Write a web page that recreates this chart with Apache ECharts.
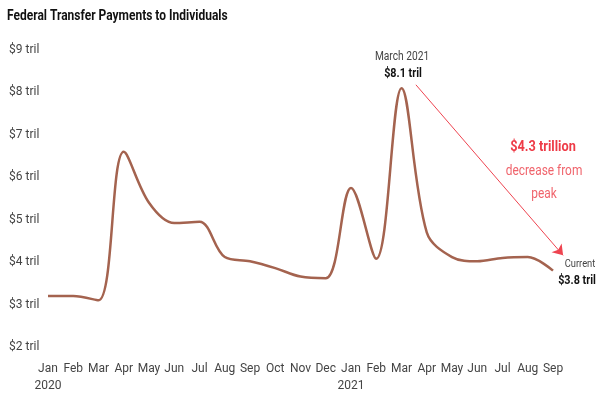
<!DOCTYPE html>
<html lang="en">
<head>
<meta charset="UTF-8">
<title>Federal Transfer Payments to Individuals</title>
<script src="https://cdn.jsdelivr.net/npm/echarts@6/dist/echarts.min.js"></script>
<style>
  html, body { margin: 0; padding: 0; background: #fff; }
  #main { width: 599px; height: 399px; }
</style>
</head>
<body>
<div id="main"></div>
<script>
// monthly values, Jan 2020 - Sep 2021, trillions of dollars
var months = ['Jan\n2020', 'Feb', 'Mar', 'Apr', 'May', 'Jun', 'Jul', 'Aug', 'Sep', 'Oct', 'Nov', 'Dec',
              'Jan\n2021', 'Feb', 'Mar', 'Apr', 'May', 'Jun', 'Jul', 'Aug', 'Sep'];
var payments = [3.2, 3.2, 3.1, 6.6, 5.4, 4.92, 4.95, 4.12, 4.02, 3.86, 3.66, 3.62,
                5.75, 4.08, 8.1, 4.7, 4.12, 4.02, 4.1, 4.12, 3.8];
var yTicks = [2, 3, 4, 5, 6, 7, 8, 9];
// arrow from the peak down to the latest value (month index, trillions)
var arrowFrom = [14.57, 8.18];
var arrowTo = [20.4, 4.16];

var font = 'Roboto, sans-serif';
var chart = echarts.init(document.getElementById('main'));

function label(txt, x, y, size, weight, color, scale) {
  return {
    type: 'text', x: x, y: y, scaleX: scale || 1,
    style: { text: txt, fontFamily: font, fontSize: size, fontWeight: weight,
             fill: color, textAlign: 'center', textVerticalAlign: 'middle' }
  };
}

chart.setOption({
  animation: false,
  textStyle: { fontFamily: font },
  grid: { left: 48, right: 46, top: 50, bottom: 52 },
  xAxis: [{
    type: 'category',
    data: months,
    boundaryGap: false,
    axisLine: { show: false },
    axisTick: { show: false },
    axisLabel: { color: '#444', fontSize: 12, margin: 13, lineHeight: 17, interval: 0 }
  }, {
    type: 'value', show: false, min: 0, max: months.length - 1
  }],
  yAxis: {
    type: 'value',
    min: yTicks[0], max: yTicks[yTicks.length - 1], interval: 1,
    splitLine: { show: false },
    axisLine: { show: false },
    axisTick: { show: false },
    axisLabel: {
      color: '#444', fontSize: 12, align: 'left', margin: 39,
      formatter: function (v) { return '$' + v + ' tril'; }
    }
  },
  series: [{
    type: 'line',
    data: payments,
    smooth: 0.35,
    symbol: 'none',
    lineStyle: { color: '#a4634f', width: 2.5 }
  }, {
    type: 'lines',
    coordinateSystem: 'cartesian2d',
    xAxisIndex: 1,
    clip: false,
    silent: true,
    symbol: ['none', 'arrow'],
    symbolSize: 10,
    lineStyle: { color: '#ee4450', width: 1, opacity: 1 },
    data: [{ coords: [arrowFrom, arrowTo] }]
  }],
  graphic: [
    { type: 'text', x: 7, y: 9, scaleX: 0.8,
      style: { text: 'Federal Transfer Payments to Individuals', fontFamily: font, fontSize: 15,
               fontWeight: 'bold', fill: '#111' } },
    label('March 2021', 402, 57, 12, 'normal', '#444', 0.85),
    label('$8.1 tril', 403, 74, 12, 'bold', '#111', 0.9),
    label('$4.3 trillion', 543, 147, 15, 'bold', '#ee3b47', 0.85),
    label('decrease from', 544, 171, 14, 'normal', '#f0646c', 0.85),
    label('peak', 544, 194, 14, 'normal', '#f0646c', 0.85),
    label('Current', 580, 264, 11, 'normal', '#444', 0.85),
    label('$3.8 tril', 577, 281, 12, 'bold', '#111', 0.9)
  ]
});
</script>
</body>
</html>
